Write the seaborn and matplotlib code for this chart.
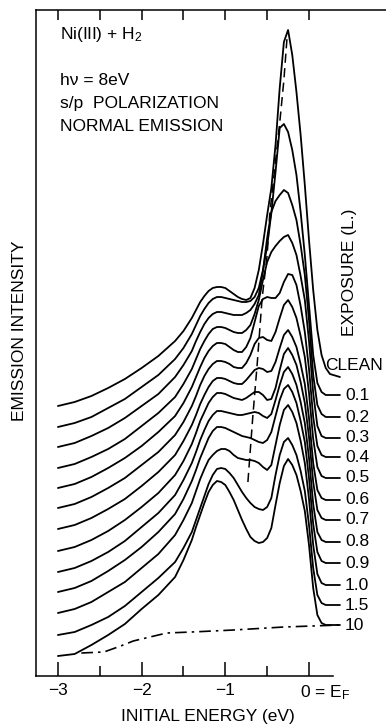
#!/usr/bin/env python3
"""
Ni(111) + H2 photoemission spectra, normal emission, hv = 8 eV.
Waterfall of EDCs vs. hydrogen exposure (offset already included).
"""

import numpy as np
import pandas as pd
import matplotlib
matplotlib.use("Agg")
import matplotlib.pyplot as plt
from matplotlib.transforms import ScaledTranslation
import seaborn as sns

# initial energy grid (eV, relative to E_F)
energy = [-3.0, -2.8, -2.6, -2.4, -2.2, -2.0, -1.8,
          -1.6, -1.5, -1.4, -1.35, -1.3, -1.25, -1.2, -1.15, -1.1, -1.05, -1.0,
          -0.95, -0.9, -0.85, -0.8, -0.75, -0.7, -0.65, -0.6, -0.55, -0.5,
          -0.45, -0.4, -0.35, -0.3, -0.25, -0.2, -0.15, -0.1, -0.05, 0.0,
          0.05, 0.1, 0.15, 0.2, 0.25, 0.37]

exposures = ["CLEAN", "0.1", "0.2", "0.3", "0.4", "0.5", "0.6", "0.7",
             "0.8", "0.9", "1.0", "1.5", "10"]

# emission intensity (arb. units, stacked)
clean = [270, 274, 280, 288, 297, 308, 320,
         335, 345, 358, 366, 374, 380, 385, 388, 389, 389, 388, 385, 382, 379, 377, 376, 378, 388, 406, 432, 461,
         488, 531, 588, 634, 646, 621, 584, 541, 491, 436, 386, 346, 321, 308, 302, 299]
l01 = [249, 253, 259, 268, 277, 289, 301,
       317, 328, 342, 351, 360, 367, 373, 377, 379, 379, 378, 377, 376, 375, 374, 374, 375, 379, 388, 406, 430,
       463, 504, 548, 552, 544, 526, 501, 464, 421, 371, 321, 293, 284, 281, 281, 281]
l02 = [229, 233, 240, 248, 258, 270, 282,
       299, 311, 325, 335, 344, 352, 358, 362, 364, 364, 363, 362, 361, 361, 361, 363, 366, 372, 381, 405, 438,
       464, 475, 481, 486, 483, 471, 456, 431, 401, 356, 301, 271, 262, 259, 259, 259]
l03 = [208, 212, 219, 227, 237, 250, 263,
       279, 292, 307, 317, 327, 335, 342, 347, 349, 349, 348, 346, 344, 343, 343, 346, 351, 362, 376, 396, 414,
       424, 430, 435, 439, 441, 433, 421, 400, 376, 335, 283, 250, 240, 238, 238, 238]
l04 = [188, 192, 199, 208, 218, 230, 244,
       260, 273, 289, 299, 309, 318, 325, 330, 333, 333, 332, 329, 326, 324, 324, 329, 338, 354, 370, 377, 379,
       378, 378, 383, 394, 402, 401, 391, 370, 344, 307, 259, 230, 221, 219, 219, 219]
l05 = [168, 172, 179, 188, 198, 211, 224,
       241, 254, 270, 280, 291, 300, 307, 312, 315, 315, 314, 312, 309, 308, 308, 313, 321, 332, 338, 339, 336,
       335, 344, 358, 371, 376, 369, 358, 340, 319, 283, 237, 209, 200, 198, 198, 198]
l06 = [147, 151, 158, 167, 177, 190, 204,
       221, 235, 251, 261, 272, 281, 289, 295, 298, 298, 297, 295, 293, 292, 292, 296, 301, 306, 308, 307, 304,
       305, 314, 328, 341, 346, 339, 329, 312, 292, 258, 213, 186, 178, 176, 176, 176]
l07 = [125, 129, 136, 145, 156, 169, 183,
       201, 215, 232, 243, 255, 264, 273, 279, 283, 283, 282, 280, 278, 277, 276, 278, 281, 284, 284, 281, 276,
       277, 288, 306, 322, 328, 321, 311, 294, 273, 239, 194, 166, 158, 156, 156, 156]
l08 = [104, 108, 115, 124, 135, 149, 163,
       181, 196, 213, 224, 236, 246, 255, 261, 265, 265, 264, 263, 262, 261, 261, 262, 263, 264, 263, 260, 258,
       262, 276, 291, 304, 309, 302, 291, 274, 253, 218, 172, 144, 136, 134, 134, 134]
l09 = [84, 88, 95, 105, 116, 129, 144,
       162, 177, 195, 206, 218, 228, 238, 245, 249, 249, 248, 246, 244, 242, 240, 239, 238, 236, 234, 233, 236,
       244, 260, 276, 287, 291, 284, 273, 255, 234, 198, 152, 124, 115, 113, 113, 113]
l10 = [63, 67, 74, 84, 94, 108, 122,
       141, 156, 173, 185, 197, 207, 216, 221, 225, 227, 227, 225, 221, 218, 217, 216, 216, 215, 213, 209, 206,
       211, 231, 251, 266, 271, 264, 253, 235, 213, 177, 131, 102, 93, 91, 91, 91]
l15 = [41, 44, 51, 59, 70, 84, 98,
       114, 128, 144, 156, 168, 180, 192, 201, 207, 208, 207, 203, 198, 191, 184, 178, 173, 169, 167, 166, 169,
       178, 201, 221, 234, 238, 231, 221, 205, 185, 151, 108, 81, 73, 71, 71, 71]
l100 = [20, 22, 31, 41, 52, 67, 81,
        99, 116, 136, 149, 161, 173, 184, 191, 195, 194, 191, 184, 176, 166, 156, 147, 139, 135, 133, 134, 138,
        148, 171, 193, 210, 217, 211, 201, 185, 165, 131, 88, 61, 53, 51, 51, 51]

# background under the 10 L spectrum (dash-dot)
bg_energy = [-2.72, -2.45, -2.25, -2.1, -1.9, -1.7, -1.4, -0.9, -0.3, 0.37]
bg_intensity = [23, 24, 30, 35, 39, 43, 44, 46, 49, 51]

# H-induced peak position (dashed)
h_energy = [-0.73, -0.67, -0.62, -0.56, -0.50, -0.47, -0.35, -0.30, -0.26]
h_intensity = [194, 261, 311, 378, 421, 461, 553, 596, 641]

traces = [clean, l01, l02, l03, l04, l05, l06, l07, l08, l09, l10, l15, l100]


def main():
    sns.set_style("white")
    plt.rcParams["font.family"] = ["Liberation Sans", "DejaVu Sans"]
    plt.rcParams["mathtext.fontset"] = "custom"
    plt.rcParams["mathtext.rm"] = "Liberation Sans"
    plt.rcParams["mathtext.default"] = "regular"
    plt.rcParams["text.color"] = "black"
    plt.rcParams["xtick.color"] = "black"
    plt.rcParams["axes.edgecolor"] = "black"

    rows = []
    for lab, tr in zip(exposures, traces):
        for e, v in zip(energy, tr):
            rows.append({"energy": e, "intensity": v, "exposure": lab})
    df = pd.DataFrame(rows)

    W, H = 386, 725
    fig = plt.figure(figsize=(W / 100, H / 100), dpi=100)
    ax = fig.add_axes([36 / W, 1 - 676 / H, (W - 36) / W, 666 / H])

    sns.lineplot(data=df, x="energy", y="intensity", units="exposure",
                 estimator=None, sort=False, color="black", lw=1.3, ax=ax,
                 legend=False, solid_joinstyle="round", solid_capstyle="round")
    ax.plot(bg_energy, bg_intensity, color="black", lw=1.2,
            dashes=[7, 3, 1.5, 3])
    ax.plot(h_energy, h_intensity, color="black", lw=1.1, dashes=[6, 3.5])

    ax.set_xlim(-3.262, 0.92)
    ax.set_ylim(0, 666)
    ax.set_xlabel("")
    ax.set_ylabel("")
    ax.set_yticks([])

    for s in ["left", "bottom", "top"]:
        ax.spines[s].set_linewidth(1.1)
        ax.spines[s].set_color("black")
    ax.spines["right"].set_visible(False)
    ax.spines["bottom"].set_bounds(-3.262, 0.29)

    ax.set_xticks([-3, -2, -1, 0])
    ax.set_xticklabels(["\u22123", "\u22122", "\u22121", "0 = E$_F$"], fontsize=12.5)
    ax.set_xticks([-2.5, -1.5, -0.5], minor=True)
    ax.tick_params(axis="x", which="major", direction="in", length=10, width=1.1,
                   pad=5, bottom=True, top=False, colors="black")
    ax.tick_params(axis="x", which="minor", direction="in", length=7, width=1.1,
                   bottom=True, top=False, colors="black")
    lbl = ax.get_xticklabels()[-1]
    lbl.set_horizontalalignment("left")
    lbl.set_transform(lbl.get_transform() + ScaledTranslation(-0.09, 0, fig.dpi_scale_trans))

    top = ax.secondary_xaxis("top")
    top.set_xticks([-3, -2.5, -2, -1.5, -1, -0.5, 0])
    top.tick_params(direction="in", length=7, width=1.1, labeltop=False, colors="black")
    top.spines["top"].set_visible(False)

    # exposure labels
    for lab, tr in zip(exposures, traces):
        if lab == "CLEAN":
            ax.text(0.19, tr[-1] + 12, lab, fontsize=12.5, va="center", ha="left")
        else:
            ax.text(0.43, tr[-1], lab, fontsize=12.5, va="center", ha="left")

    ax.text(0.485, 404, "EXPOSURE (L.)", rotation=90, fontsize=12.5,
            ha="center", va="center")

    ax.text(-2.98, 637, "Ni(III) + H$_2$", fontsize=12.5, va="baseline")
    ax.text(-2.98, 591, "h\u03bd = 8eV", fontsize=12.5, va="baseline")
    ax.text(-2.98, 568, "s/p  POLARIZATION", fontsize=12.5, va="baseline")
    ax.text(-2.98, 545, "NORMAL EMISSION", fontsize=12.5, va="baseline")

    fig.text(20 / W, 1 - 331 / H, "EMISSION INTENSITY", rotation=90,
             fontsize=12.5, ha="center", va="center")
    fig.text(208 / W, 1 - 716 / H, "INITIAL ENERGY (eV)", fontsize=12.5,
             ha="center", va="center")

    fig.savefig("out.png", dpi=100, facecolor="white")
    plt.close(fig)


if __name__ == "__main__":
    main()
